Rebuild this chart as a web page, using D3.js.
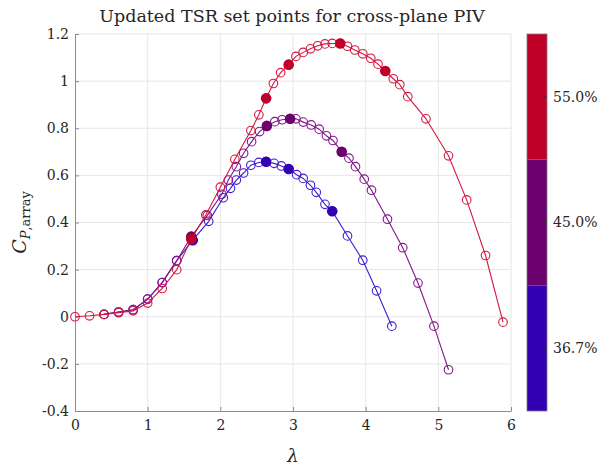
<!DOCTYPE html>
<html>
<head>
<meta charset="utf-8">
<script src="https://cdn.jsdelivr.net/npm/d3@7"></script>
<style>
body { margin: 0; background: #fff; }
text { font-family: "DejaVu Serif", "Liberation Serif", serif; fill: #262626; }
</style>
</head>
<body>
<svg id="chart" width="602" height="466"></svg>
<script>

// values, one set of arrays for each solidity

const lam_367 = [0.4, 0.6, 0.8, 1.0, 1.2, 1.4, 1.62, 1.84, 2.04, 2.14, 2.22, 2.32, 2.42, 2.53, 2.63, 2.74, 2.84, 2.94, 3.05, 3.14, 3.24, 3.32, 3.44, 3.54, 3.75, 3.96, 4.15, 4.36];
const cp_367  = [0.01, 0.02, 0.03, 0.075, 0.145, 0.238, 0.325, 0.405, 0.505, 0.545, 0.58, 0.61, 0.643, 0.655, 0.658, 0.651, 0.64, 0.627, 0.603, 0.587, 0.558, 0.528, 0.477, 0.448, 0.343, 0.24, 0.11, -0.04];
const set_367 = [6, 14, 17, 23];

const lam_450 = [0.4, 0.6, 0.8, 1.0, 1.2, 1.4, 1.6, 1.82, 2.02, 2.11, 2.22, 2.32, 2.43, 2.54, 2.64, 2.75, 2.85, 2.96, 3.04, 3.14, 3.25, 3.36, 3.46, 3.55, 3.67, 3.77, 3.86, 3.98, 4.08, 4.30, 4.51, 4.72, 4.94, 5.14];
const cp_450  = [0.01, 0.02, 0.03, 0.075, 0.145, 0.238, 0.34, 0.43, 0.52, 0.58, 0.637, 0.694, 0.743, 0.786, 0.81, 0.828, 0.836, 0.84, 0.84, 0.826, 0.814, 0.796, 0.768, 0.748, 0.70, 0.673, 0.637, 0.584, 0.537, 0.414, 0.293, 0.143, -0.04, -0.225];
const set_450 = [6, 14, 17, 24];

const lam_550 = [0, 0.2, 0.4, 0.6, 0.8, 1.0, 1.2, 1.4, 1.6, 1.8, 2.0, 2.2, 2.42, 2.53, 2.63, 2.73, 2.83, 2.94, 3.04, 3.14, 3.24, 3.34, 3.44, 3.54, 3.65, 3.75, 3.85, 3.96, 4.07, 4.17, 4.27, 4.38, 4.47, 4.58, 4.83, 5.14, 5.39, 5.65, 5.89];
const cp_550  = [0, 0.004, 0.01, 0.017, 0.025, 0.058, 0.12, 0.2, 0.33, 0.432, 0.55, 0.668, 0.79, 0.857, 0.927, 0.99, 1.036, 1.07, 1.105, 1.122, 1.137, 1.15, 1.158, 1.16, 1.16, 1.148, 1.132, 1.116, 1.097, 1.072, 1.043, 1.01, 0.985, 0.934, 0.84, 0.683, 0.496, 0.26, -0.023];
const set_550 = [8, 14, 17, 24, 30];

const bar_labels = ["36.7%", "45.0%", "55.0%"];
const bar_colors = ["#3300b4", "#6c006e", "#c00028"];
const line_colors = ["#3f1cd0", "#82158c", "#d41840"];

const x_ticks = [0, 1, 2, 3, 4, 5, 6];
const y_ticks = [-0.4, -0.2, 0, 0.2, 0.4, 0.6, 0.8, 1, 1.2];

const series = [
    {lam: lam_367, cp: cp_367, set: set_367},
    {lam: lam_450, cp: cp_450, set: set_450},
    {lam: lam_550, cp: cp_550, set: set_550}
];

const svg = d3.select("#chart");

const plot_left = 75, plot_right = 511, plot_top = 34, plot_bottom = 411;

const x = d3.scaleLinear().domain([0, 6]).range([plot_left, plot_right]);
const y = d3.scaleLinear().domain([-0.4, 1.2]).range([plot_bottom, plot_top]);

// grid
svg.append("g")
    .selectAll("line")
    .data(x_ticks.slice(1))
    .join("line")
    .attr("x1", d => x(d)).attr("x2", d => x(d))
    .attr("y1", plot_top).attr("y2", plot_bottom)
    .attr("stroke", "#e6e6e6").attr("stroke-width", 1);

svg.append("g")
    .selectAll("line")
    .data(y_ticks.slice(1))
    .join("line")
    .attr("x1", plot_left).attr("x2", plot_right)
    .attr("y1", d => y(d)).attr("y2", d => y(d))
    .attr("stroke", "#e6e6e6").attr("stroke-width", 1);

// axes
const fmt = d => d === 0 ? "0" : (Number.isInteger(d) ? String(d) : d.toFixed(1));

const xAxis = svg.append("g")
    .attr("transform", `translate(0,${plot_bottom})`)
    .call(d3.axisBottom(x).tickValues(x_ticks).tickSizeInner(-4).tickSizeOuter(0).tickPadding(9).tickFormat(fmt));

const yAxis = svg.append("g")
    .attr("transform", `translate(${plot_left},0)`)
    .call(d3.axisLeft(y).tickValues(y_ticks).tickSizeInner(-4).tickSizeOuter(0).tickPadding(6).tickFormat(fmt));

[xAxis, yAxis].forEach(a => {
    a.select(".domain").attr("stroke", "#8c8c8c");
    a.selectAll(".tick line").attr("stroke", "#8c8c8c");
    a.selectAll(".tick text")
        .style("font-family", "DejaVu Serif, serif")
        .style("font-size", "14px")
        .attr("fill", "#262626");
});

// curves
const line = d3.line().x(d => x(d[0])).y(d => y(d[1]));

series.forEach((s, i) => {
    const pts = s.lam.map((l, j) => [l, s.cp[j]]);
    const g = svg.append("g");

    g.append("path")
        .attr("d", line(pts))
        .attr("fill", "none")
        .attr("stroke", line_colors[i])
        .attr("stroke-width", 1.1);

    g.append("g")
        .selectAll("circle")
        .data(pts)
        .join("circle")
        .attr("cx", d => x(d[0]))
        .attr("cy", d => y(d[1]))
        .attr("r", 4.3)
        .attr("fill", "none")
        .attr("stroke", line_colors[i])
        .attr("stroke-width", 1.1);

    g.append("g")
        .selectAll("circle")
        .data(s.set.map(j => pts[j]))
        .join("circle")
        .attr("cx", d => x(d[0]))
        .attr("cy", d => y(d[1]))
        .attr("r", 5.3)
        .attr("fill", bar_colors[i]);
});

// colour bar
const cb_left = 527, cb_width = 20;
const cb = d3.scaleBand().domain([2, 1, 0]).range([plot_top, plot_bottom]).paddingInner(0);

svg.append("g")
    .selectAll("rect")
    .data([0, 1, 2])
    .join("rect")
    .attr("x", cb_left)
    .attr("y", d => cb(d))
    .attr("width", cb_width)
    .attr("height", cb.bandwidth())
    .attr("fill", d => bar_colors[d]);

svg.append("rect")
    .attr("x", cb_left).attr("y", plot_top)
    .attr("width", cb_width).attr("height", plot_bottom - plot_top)
    .attr("fill", "none").attr("stroke", "#7a7a7a").attr("stroke-width", 0.8);

const cbTicks = svg.append("g");
[0, 1, 2].forEach(d => {
    const cy = cb(d) + cb.bandwidth() / 2;
    cbTicks.append("line")
        .attr("x1", cb_left + cb_width - 3).attr("x2", cb_left + cb_width)
        .attr("y1", cy).attr("y2", cy)
        .attr("stroke", "#333");
    cbTicks.append("text")
        .attr("x", cb_left + cb_width + 6)
        .attr("y", cy)
        .attr("dy", "0.35em")
        .style("font-size", "14px")
        .text(bar_labels[d]);
});

// title and labels
svg.append("text")
    .attr("x", 292)
    .attr("y", 22)
    .attr("text-anchor", "middle")
    .style("font-size", "17.5px")
    .text("Updated TSR set points for cross-plane PIV");

svg.append("text")
    .attr("x", (plot_left + plot_right) / 2)
    .attr("y", 462)
    .attr("text-anchor", "middle")
    .style("font-size", "18px")
    .style("font-style", "italic")
    .text("λ");

const ylab = svg.append("text")
    .attr("transform", `translate(26,${(plot_top + plot_bottom) / 2}) rotate(-90)`)
    .attr("text-anchor", "middle")
    .style("font-size", "19px");
ylab.append("tspan").style("font-style", "italic").text("C");
ylab.append("tspan").attr("dy", 4).style("font-size", "13px").style("font-style", "italic").text("P");
ylab.append("tspan").style("font-size", "13px").text(",array");

</script>
</body>
</html>
